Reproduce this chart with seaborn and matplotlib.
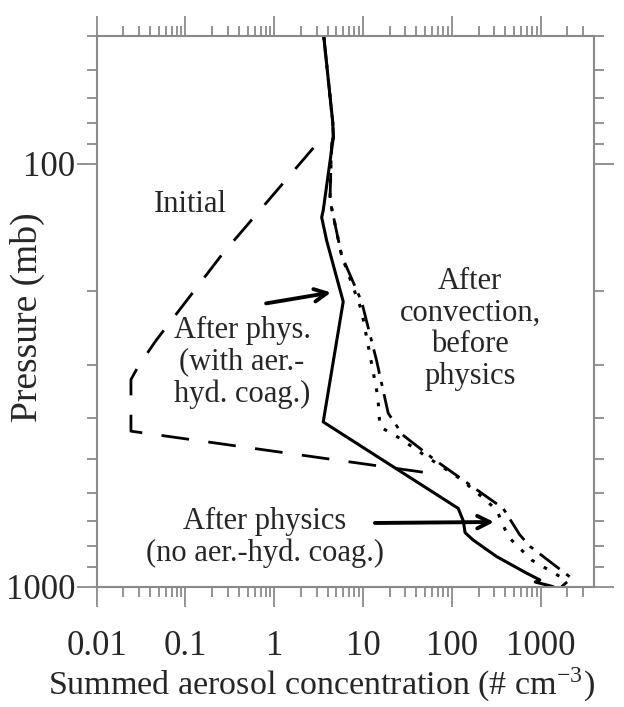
import numpy as np
import pandas as pd
import matplotlib
matplotlib.use("Agg")
import matplotlib.pyplot as plt
import matplotlib.ticker as mticker
import seaborn as sns

# ---- data (concentration in # cm^-3, pressure in mb) ----
initial_x = [2.76, 0.258, 0.0465, 0.0292, 0.0243, 0.0243, 49.5]
initial_p = [91.8, 164, 262, 302, 324, 429, 537]

coag_x = [3.61, 4.56, 4.63, 3.56, 3.42, 3.89, 5.98, 3.56, 118, 135, 141, 174, 320, 695, 982, 870, 1390]
coag_p = [50, 80, 86.7, 129, 134, 152, 212, 408, 653, 700, 745, 776, 849, 929, 964, 975, 1000]

conv_x = [3.61, 4.56, 4.63, 4.43, 4.24, 5.74, 9.64, 14.2, 19.2, 28, 64.6, 247, 379, 582, 759, 2233, 1722]
conv_p = [50, 80, 86.7, 89.7, 122, 165, 212, 292, 389, 438, 502, 613, 653, 754, 803, 955, 1000]

nocoag_x = [3.61, 4.56, 4.63, 4.43, 4.24, 5.74, 9.6, 14.7, 15.5, 26, 52, 123, 226, 320, 432, 792, 1648, 1720]
nocoag_p = [50, 80, 86.7, 89.7, 122, 165, 222, 356, 419, 446, 493, 555, 617, 659, 762, 865, 946, 1000]

xtick_vals = [0.01, 0.1, 1, 10, 100, 1000]
xtick_labels = ["0.01", "0.1", "1", "10", "100", "1000"]
ytick_vals = [100, 1000]
ytick_labels = ["100", "1000"]

sns.set_style("ticks")
plt.rcParams["font.family"] = ["Liberation Serif", "DejaVu Serif"]
plt.rcParams["mathtext.fontset"] = "stix"

fig = plt.figure(figsize=(6.24, 7.07), dpi=100)
ax = fig.add_axes([0.155, 0.1702, 0.7962, 0.7786])

def draw(xs, ps, ls, lw):
    df = pd.DataFrame({"x": xs, "p": ps})
    sns.lineplot(data=df, x="x", y="p", sort=False, estimator=None, ax=ax,
                 color="black", linestyle=ls, linewidth=lw)

draw(initial_x, initial_p, (0, (10, 7)), 2.0)
draw(conv_x, conv_p, (0, (9, 3, 1.5, 3)), 2.0)
draw(nocoag_x, nocoag_p, (0, (1.2, 3.5)), 2.2)
draw(coag_x, coag_p, "-", 2.2)

ax.set_xscale("log")
ax.set_yscale("log")
ax.set_xlim(0.01, 3950)
ax.set_ylim(1000, 50)

ax.xaxis.set_major_locator(mticker.FixedLocator(xtick_vals))
ax.xaxis.set_major_formatter(mticker.FixedFormatter(xtick_labels))
ax.xaxis.set_minor_locator(mticker.LogLocator(base=10, subs=np.arange(2, 10), numticks=100))
ax.xaxis.set_minor_formatter(mticker.NullFormatter())
ax.yaxis.set_major_locator(mticker.FixedLocator(ytick_vals))
ax.yaxis.set_major_formatter(mticker.FixedFormatter(ytick_labels))
ax.yaxis.set_minor_locator(mticker.LogLocator(base=10, subs=np.arange(2, 10), numticks=100))
ax.yaxis.set_minor_formatter(mticker.NullFormatter())

gray = "#8a8a8a"
for s in ax.spines.values():
    s.set_visible(True)
    s.set_color(gray)
    s.set_linewidth(1.5)
ax.tick_params(which="both", direction="out", color=gray, width=1.3,
               top=True, right=True, labeltop=False, labelright=False)
ax.tick_params(which="major", length=14.5)
ax.tick_params(which="minor", length=7.2)
ax.tick_params(axis="x", which="major", labelsize=25, pad=17)
ax.tick_params(axis="y", which="major", labelsize=25, pad=1)

ax.set_xlabel("Summed aerosol concentration (# cm$^{\\mathregular{-3}}$)", fontsize=24.5)
ax.xaxis.set_label_coords(0.4535, -0.143)
ax.set_ylabel("Pressure (mb)", fontsize=27)
ax.yaxis.set_label_coords(-0.105, 0.49)

fs = 22
ls_txt = 1.12
ax.text(0.188, 0.695, "Initial", transform=ax.transAxes, ha="center", va="center", fontsize=fs)
ax.text(0.2925, 0.408, "After phys.\n(with aer.-\nhyd. coag.)", transform=ax.transAxes,
        ha="center", va="center", fontsize=fs, linespacing=ls_txt)
ax.text(0.7513, 0.468, "After\nconvection,\nbefore\nphysics", transform=ax.transAxes,
        ha="center", va="center", fontsize=fs, linespacing=ls_txt)
ax.text(0.338, 0.0894, "After physics\n(no aer.-hyd. coag.)", transform=ax.transAxes,
        ha="center", va="center", fontsize=fs, linespacing=ls_txt)

arrow = dict(arrowstyle="->,head_length=0.9,head_width=0.45", color="black", lw=2.8,
             shrinkA=0, shrinkB=0)
ax.annotate("", xy=(0.4716, 0.5344), xytext=(0.341, 0.5146),
            xycoords="axes fraction", textcoords="axes fraction", arrowprops=arrow)
ax.annotate("", xy=(0.7997, 0.1175), xytext=(0.560, 0.1157),
            xycoords="axes fraction", textcoords="axes fraction", arrowprops=arrow)

fig.savefig("out.png", dpi=100)
